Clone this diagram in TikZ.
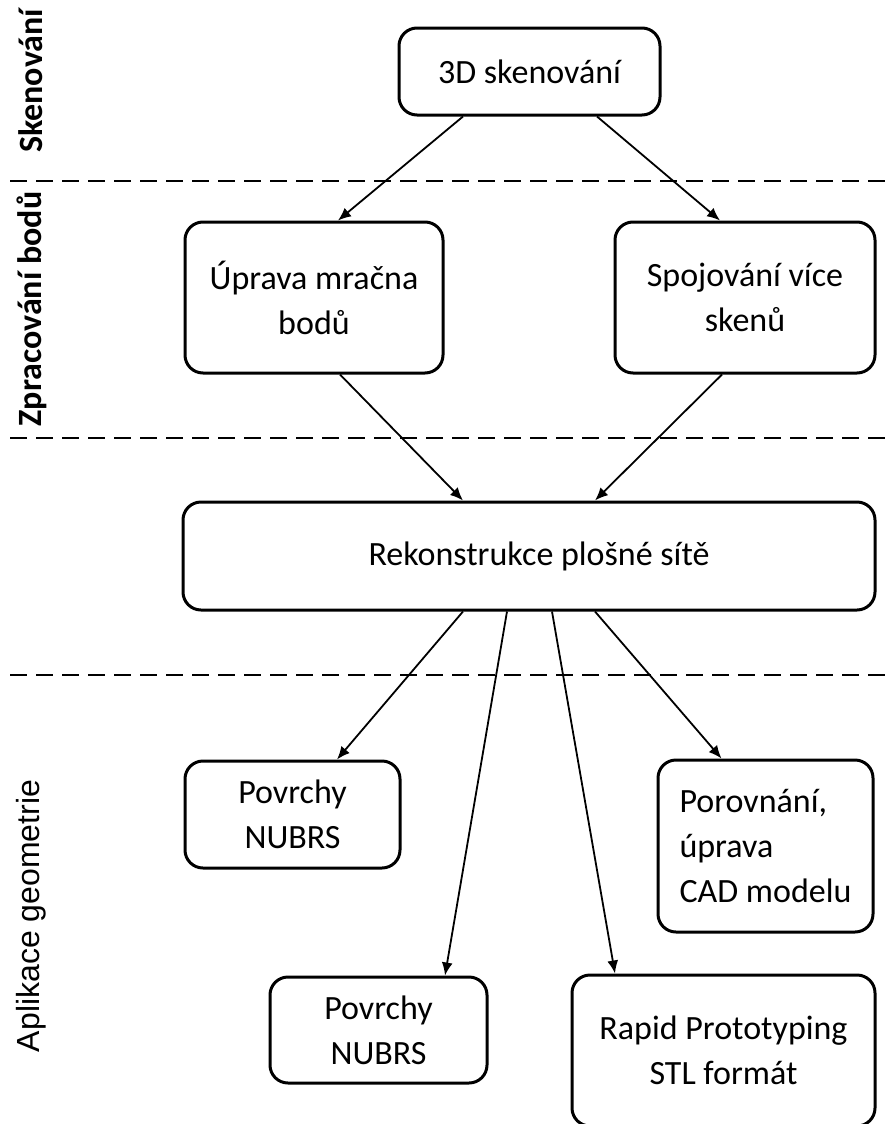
\documentclass[tikz,border=0pt]{standalone}
\usepackage{fontspec}
\setmainfont{Carlito}
\newfontfamily\arialfont{Liberation Sans}
\usetikzlibrary{arrows.meta}

\begin{document}
\begin{tikzpicture}[x=0.5pt,y=-0.5pt,
    box/.style={draw, line width=1.5pt, rounded corners=9pt, align=center, inner sep=0pt,
        font=\fontsize{17}{22.5}\selectfont},
    arr/.style={-{Latex[length=6.5pt,width=5.5pt]}, line width=0.9pt},
    sep/.style={line width=1.4pt, dash pattern=on 8.5pt off 4.5pt},
    lbl/.style={rotate=90, font=\fontsize{17}{20}\selectfont}]
    \useasboundingbox (0,0) rectangle (885,1124);

    % Separators between the stages
    \draw[sep] (10,181) -- (885,181);
    \draw[sep] (10,438) -- (885,438);
    \draw[sep] (10,675) -- (885,675);

    % Stage labels on the left
    \node[lbl] (lskn) at (31,81) {\bfseries Skenování};
    \node[lbl] (lzpr) at (32,309) {\bfseries Zpracování bodů};
    \node[lbl, font=\fontsize{16}{19}\selectfont] (lapl) at (31,916) {\arialfont Aplikace geometrie};

    % Boxes
    \node[box, minimum width=130.5pt, minimum height=43.5pt] (scan) at (529.5,71.5) {3D skenování};
    \node[box, minimum width=129pt, minimum height=75.5pt] (uprava) at (314,297.5) {Úprava mračna\\bodů};
    \node[box, minimum width=130pt, minimum height=75.5pt] (spoj) at (745,297.5) {Spojování více\\skenů};
    \node[box, minimum width=346pt, minimum height=54pt] (rekon) at (529,556) {\hspace{10pt}Rekonstrukce plošné sítě};
    \node[box, minimum width=107.5pt, minimum height=53.5pt] (povrch1) at (292.5,814.5) {Povrchy\\NUBRS};
    \node[box, minimum width=107.5pt, minimum height=86pt, align=left] (porov) at (765.5,846) {Porovnání,\\úprava\\CAD modelu};
    \node[box, minimum width=108.5pt, minimum height=53pt] (povrch2) at (378.5,1030) {Povrchy\\NUBRS};
    \node[box, minimum width=151.5pt, minimum height=75.5pt] (rapid) at (723.5,1050.5) {Rapid Prototyping\\STL formát};

    % Arrows
    \draw[arr] ([xshift=-33.25pt]scan.south) -- ([xshift=12pt]uprava.north);
    \draw[arr] ([xshift=33.75pt]scan.south) -- ([xshift=-12.5pt]spoj.north);
    \draw[arr] ([xshift=13pt]uprava.south) -- ([xshift=-33pt]rekon.north);
    \draw[arr] ([xshift=-11.5pt]spoj.south) -- ([xshift=33pt]rekon.north);
    \draw[arr] ([xshift=-33pt]rekon.south) -- ([xshift=22.25pt]povrch1.north);
    \draw[arr] ([xshift=-11pt]rekon.south) -- ([xshift=33.25pt]povrch2.north);
    \draw[arr] ([xshift=11.5pt]rekon.south) -- ([xshift=-54.25pt]rapid.north);
    \draw[arr] ([xshift=33pt]rekon.south) -- ([xshift=-22pt]porov.north);
\end{tikzpicture}
\end{document}
